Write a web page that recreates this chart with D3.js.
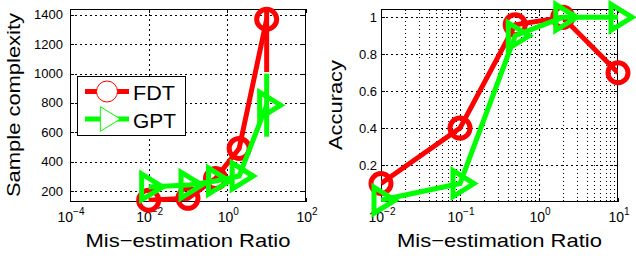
<!DOCTYPE html>
<html><head><meta charset="utf-8">
<script src="https://cdn.jsdelivr.net/npm/d3@7"></script>
<style>
html,body{margin:0;padding:0;background:#fff;}
svg{display:block;font-family:"Liberation Sans",Arial,Helvetica,sans-serif;}
</style></head>
<body>
<svg id="chart" width="636" height="278"></svg>
<script>
// ---- data ----
const ratios = [0.01, 0.1, 0.5, 2, 10];
const seriesNames = ["FDT", "GPT"];
const fdtSamples = [137, 150, 285, 490, 1370];
const gptSamples = [228, 240, 268, 302, 785];
const fdtSampleErr = [0, 0, 0, 0, 360];
const gptSampleErr = [0, 0, 0, 0, 215];
const fdtAccuracy = [0.1, 0.4, 0.96, 1.0, 0.7];
const gptAccuracy = [0.01, 0.1, 0.9, 1.0, 1.0];
const leftXTicks = [-4, -2, 0, 2];        // exponents
const leftYTicks = [200, 400, 600, 800, 1000, 1200, 1400];
const rightXTicks = [-2, -1, 0, 1];       // exponents
const rightYTicks = [0.2, 0.4, 0.6, 0.8, 1];
const xLabel = "Mis\u2212estimation Ratio";
const leftYLabel = "Sample complexity";
const rightYLabel = "Accuracy";

const RED = "#ff0000", GREEN = "#00ff00";
const svg = d3.select("#chart");

function triPath(s){ // right-pointing triangle
  return `M${-7*s},${-13*s}L${-7*s},${13*s}L${14*s},0Z`;
}

function panel(opt){
  const {x0,x1,y0,y1,xDomain,yDomain,xTicks,yTicks,yLabelFmt,yLabelX,minorGrid,id} = opt;
  const g = svg.append("g");
  const x = d3.scaleLog().domain(xDomain).range([x0,x1]);
  const y = d3.scaleLinear().domain(yDomain).range([y1,y0]);
  g.append("rect").attr("x",x0).attr("y",y0).attr("width",x1-x0).attr("height",y1-y0).attr("fill","#fff");
  const grid = g.append("g").attr("stroke","#000").attr("stroke-width",1).attr("stroke-dasharray","2,3").attr("shape-rendering","crispEdges");
  if(minorGrid){
    const lo = Math.log10(xDomain[0]), hi = Math.log10(xDomain[1]);
    for(let e=lo;e<hi;e++){
      for(let k=2;k<=9;k++){
        const xv = Math.round(x(k*Math.pow(10,e)))+0.5;
        grid.append("line").attr("x1",xv).attr("x2",xv).attr("y1",y0).attr("y2",y1).attr("stroke-dasharray","1,3");
        g.append("line").attr("x1",xv).attr("x2",xv).attr("y1",y1).attr("y2",y1-2).attr("stroke","#000").attr("shape-rendering","crispEdges");
        g.append("line").attr("x1",xv).attr("x2",xv).attr("y1",y0).attr("y2",y0+2).attr("stroke","#000").attr("shape-rendering","crispEdges");
      }
    }
  }
  xTicks.forEach(e=>{
    const xv = Math.round(x(Math.pow(10,e)))+0.5;
    if(xv>x0+1 && xv<x1-1) grid.append("line").attr("x1",xv).attr("x2",xv).attr("y1",y0).attr("y2",y1);
  });
  yTicks.forEach(v=>{
    const yv = Math.round(y(v))+0.5;
    if(yv>y0+1 && yv<y1-1) grid.append("line").attr("x1",x0).attr("x2",x1).attr("y1",yv).attr("y2",yv);
  });
  const tk = g.append("g").attr("stroke","#000").attr("stroke-width",1).attr("shape-rendering","crispEdges");
  xTicks.forEach(e=>{
    const xv = Math.round(x(Math.pow(10,e)))+0.5;
    tk.append("line").attr("x1",xv).attr("x2",xv).attr("y1",y1).attr("y2",y1-4);
    tk.append("line").attr("x1",xv).attr("x2",xv).attr("y1",y0).attr("y2",y0+4);
  });
  yTicks.forEach(v=>{
    const yv = Math.round(y(v))+0.5;
    tk.append("line").attr("x1",x0).attr("x2",x0+4).attr("y1",yv).attr("y2",yv);
    tk.append("line").attr("x1",x1).attr("x2",x1-4).attr("y1",yv).attr("y2",yv);
  });
  g.append("rect").attr("x",x0+0.5).attr("y",y0+0.5).attr("width",x1-x0-1).attr("height",y1-y0-1)
    .attr("fill","none").attr("stroke","#000").attr("stroke-width",1).attr("shape-rendering","crispEdges");
  yTicks.forEach(v=>{
    g.append("text").attr("x",yLabelX).attr("y",y(v)).attr("dy","0.35em").attr("text-anchor","end")
      .attr("font-size",13).attr("fill","#000").text(yLabelFmt(v));
  });
  xTicks.forEach(e=>{
    const t = g.append("text").attr("x",x(Math.pow(10,e))+1).attr("y",221.5).attr("text-anchor","middle").attr("fill","#000");
    t.append("tspan").attr("font-size",14).text("10");
    t.append("tspan").attr("font-size",10).attr("dy",-6.5).text(String(e).replace("-","\u2212"));
  });
  g.append("text").attr("x",(x0+x1)/2).attr("y",246.5).attr("text-anchor","middle").attr("font-size",19)
    .attr("textLength",205).attr("lengthAdjust","spacingAndGlyphs").attr("fill","#000").text(xLabel);
  g.append("text").attr("transform",`translate(${opt.yTitleX},105) rotate(-90)`).attr("text-anchor","middle")
    .attr("font-size",19).attr("textLength",opt.yTitleLen).attr("lengthAdjust","spacingAndGlyphs").attr("fill","#000").text(opt.yTitle);
  svg.append("defs").append("clipPath").attr("id",id).append("rect").attr("x",x0).attr("y",y0).attr("width",x1-x0).attr("height",y1-y0);
  return {g,x,y};
}

function drawSeries(p, clipId, vals, errs, color, marker){
  const line = d3.line().x((d,i)=>p.x(ratios[i])).y(d=>p.y(d));
  const lg = p.g.append("g").attr("clip-path",`url(#${clipId})`);
  lg.append("path").attr("d",line(vals)).attr("fill","none").attr("stroke",color).attr("stroke-width",5).attr("stroke-linejoin","miter");
  if(errs){
    vals.forEach((v,i)=>{
      if(errs[i]>0) lg.append("line").attr("x1",p.x(ratios[i])).attr("x2",p.x(ratios[i]))
        .attr("y1",p.y(v-errs[i])).attr("y2",p.y(v+errs[i])).attr("stroke",color).attr("stroke-width",5);
    });
  }
  vals.forEach((v,i)=>{
    const cx = p.x(ratios[i]), cy = p.y(v);
    if(marker==="o") p.g.append("circle").attr("cx",cx).attr("cy",cy).attr("r",10).attr("fill","none").attr("stroke",color).attr("stroke-width",5);
    else p.g.append("path").attr("d",triPath(1)).attr("transform",`translate(${cx},${cy})`).attr("fill","none").attr("stroke",color).attr("stroke-width",5).attr("stroke-linejoin","miter");
  });
}

const L = panel({id:"clipL",x0:70,x1:306,y0:9,y1:202,xDomain:[1e-4,1e2],yDomain:[125,1440],xTicks:leftXTicks,yTicks:leftYTicks,
  yLabelFmt:d3.format("d"),yLabelX:63,yTitle:leftYLabel,yTitleX:19.5,yTitleLen:184,minorGrid:false});
drawSeries(L,"clipL",fdtSamples,fdtSampleErr,RED,"o");
drawSeries(L,"clipL",gptSamples,gptSampleErr,GREEN,">");

const R = panel({id:"clipR",x0:381,x1:618,y0:9,y1:202,xDomain:[1e-2,1e1],yDomain:[0,1.045],xTicks:rightXTicks,yTicks:rightYTicks,
  yLabelFmt:v=>String(v),yLabelX:377,yTitle:rightYLabel,yTitleX:342,yTitleLen:90,minorGrid:true});
drawSeries(R,"clipR",fdtAccuracy,null,RED,"o");
drawSeries(R,"clipR",gptAccuracy,null,GREEN,">");

const lg = svg.append("g");
lg.append("rect").attr("x",77.5).attr("y",76.5).attr("width",108).attr("height",59).attr("fill","#fff").attr("stroke","#000").attr("stroke-width",1);
[[RED,"o",91.5],[GREEN,">",119]].forEach((d,i)=>{
  const [c,m,yy] = d;
  lg.append("line").attr("x1",85).attr("x2",129).attr("y1",yy).attr("y2",yy).attr("stroke",c).attr("stroke-width",5);
  if(m==="o") lg.append("circle").attr("cx",107).attr("cy",yy).attr("r",10.5).attr("fill","#fff").attr("stroke",c).attr("stroke-width",1);
  else lg.append("path").attr("d",triPath(0.95)).attr("transform",`translate(107,${yy})`).attr("fill","#fff").attr("stroke",c).attr("stroke-width",1);
  lg.append("text").attr("x",133).attr("y",yy+8.5).attr("font-size",21).attr("fill","#000")
    .attr("textLength",i===0?42:43).attr("lengthAdjust","spacingAndGlyphs").text(seriesNames[i]);
});
</script>
</body></html>
